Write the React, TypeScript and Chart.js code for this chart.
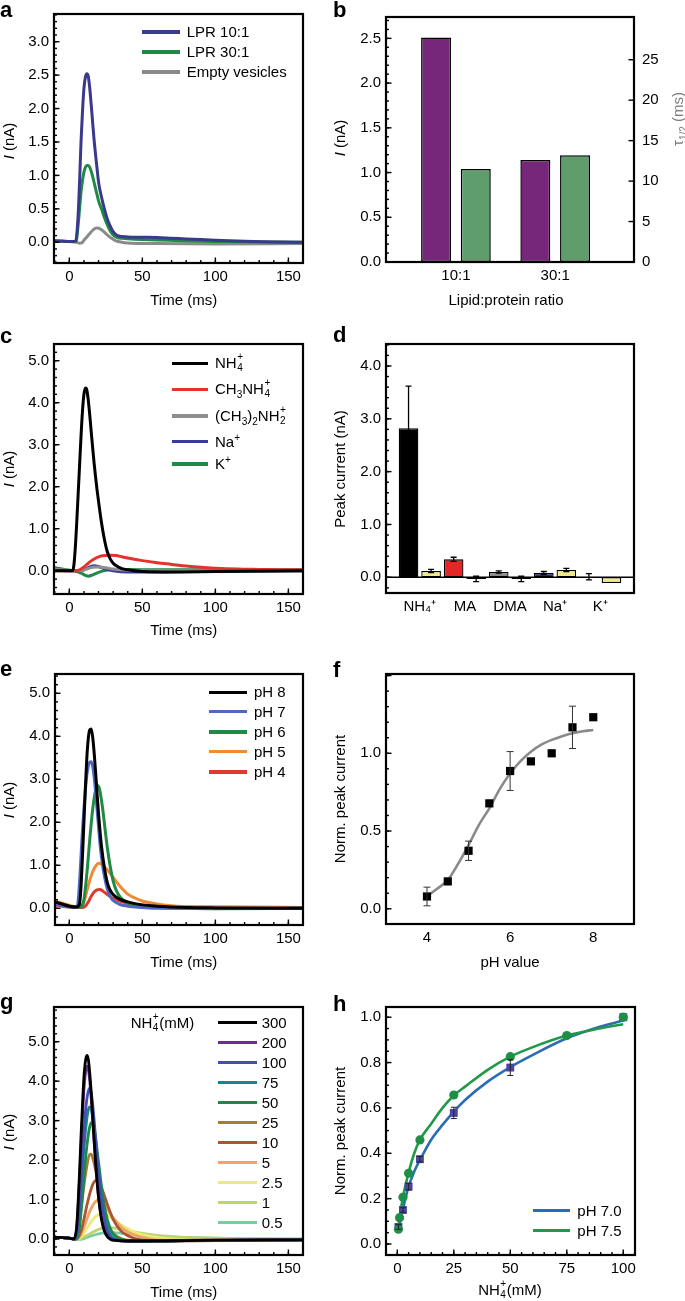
import React, { useEffect, useRef } from 'react';
import { Chart, registerables } from 'chart.js';

Chart.register(...registerables);

const FONT = "'Liberation Sans', Arial, Helvetica, sans-serif";
Chart.defaults.font.family = FONT;
Chart.defaults.font.size = 15;
Chart.defaults.color = '#000';

type Pt = [number, number];

// ===== Panel a : current traces for two lipid:protein ratios =====
const A_LPR10: Pt[] = [[-10,0.02],[-5,0.02],[0,0.01],[3,0.01],[4.5,0.03],[6,0.4],[7,0.9],[8,1.5],[9,1.95],[10,2.3],[11,2.47],[12,2.52],[13,2.48],[14,2.3],[15,2.05],[16,1.78],[17,1.52],[18,1.3],[19,1.1],[20,0.9],[22,0.68],[24,0.5],[26,0.35],[28,0.24],[30,0.16],[33,0.1],[40,0.08],[50,0.075],[60,0.07],[70,0.06],[80,0.05],[90,0.04],[100,0.03],[120,0.015],[140,0.005],[160,0]];
const A_LPR30: Pt[] = [[-10,0.02],[0,0.01],[4,0.01],[5,0.05],[6,0.25],[7,0.5],[8,0.75],[9,0.92],[10,1.05],[11,1.12],[12,1.15],[13,1.15],[14,1.12],[15,1.06],[16,0.98],[17,0.89],[18,0.8],[19,0.71],[20,0.62],[22,0.5],[24,0.37],[26,0.26],[28,0.17],[30,0.11],[33,0.07],[36,0.06],[45,0.045],[60,0.035],[80,0.02],[100,0.01],[130,0.005],[160,0]];
const A_EMPTY: Pt[] = [[-10,0.02],[0,0.01],[5,0],[7,-0.015],[8.5,-0.01],[10,0.03],[12,0.08],[14,0.13],[16,0.18],[18,0.21],[19.5,0.215],[21,0.2],[23,0.17],[25,0.13],[27,0.09],[29,0.06],[32,0.02],[36,0],[40,-0.01],[60,-0.02],[100,-0.025],[160,-0.02]];
const A_LABELS = ['LPR 10:1', 'LPR 30:1', 'Empty vesicles'];
const A_COLORS = ['#3a3a8c', '#1f8a45', '#8a8a8a'];

// ===== Panel b : peak current and tau1/2 =====
const B_CATEGORIES = ['10:1', '30:1'];
const B_POSITIONS = [1, 2];
const B_PEAK_CURRENT = [2.51, 1.14];
const B_TAU_HALF = [11.5, 13.2];

// ===== Panel c : substrate traces =====
const C_NH4: Pt[] = [[-10,0],[0,0],[2,0],[3,0.1],[4,0.5],[5,1.1],[6,1.8],[7,2.5],[8,3.2],[9,3.8],[10,4.2],[11,4.35],[12,4.3],[13,4.05],[14,3.7],[15,3.3],[16,2.92],[17,2.55],[18,2.22],[19,1.92],[20,1.65],[22,1.15],[24,0.75],[26,0.45],[28,0.28],[30,0.18],[33,0.1],[36,0.05],[40,0.02],[50,-0.02],[70,-0.03],[100,-0.02],[160,0]];
const C_MA: Pt[] = [[-10,0],[0,0],[5,0],[8,0.04],[10,0.09],[12,0.15],[14,0.21],[17,0.28],[20,0.33],[24,0.36],[28,0.37],[32,0.36],[36,0.33],[40,0.3],[50,0.24],[60,0.19],[70,0.15],[80,0.11],[90,0.08],[100,0.06],[115,0.04],[130,0.03],[145,0.02],[160,0.02]];
const C_DMA: Pt[] = [[-10,0.03],[0,0.01],[8,0],[12,0.04],[16,0.08],[20,0.09],[25,0.07],[30,0.04],[40,0.01],[60,0],[160,0]];
const C_NA: Pt[] = [[-10,0.02],[0,0],[8,0],[11,0.04],[14,0.09],[17,0.12],[20,0.1],[24,0.05],[30,0],[40,-0.03],[60,-0.03],[80,-0.02],[160,0]];
const C_K: Pt[] = [[-10,0.07],[-5,0.04],[0,0.01],[5,-0.02],[8,-0.06],[11,-0.11],[13,-0.13],[16,-0.1],[20,-0.04],[25,0.01],[30,0.03],[40,0.03],[60,0.02],[100,0.02],[160,0.02]];
const C_COLORS = ['#000000', '#e2342c', '#8f8f8f', '#3a3a9a', '#1f8a4a'];

// ===== Panel d : peak currents =====
const D_POSITIONS = [1, 2, 3, 4, 5, 6, 7, 8, 9, 10];
const D_PEAK = [2.82, 0.12, 0.34, -0.03, 0.1, -0.03, 0.08, 0.14, 0.01, -0.11];
const D_ERR = [0.8, 0.03, 0.04, 0.05, 0.02, 0.05, 0.03, 0.03, 0.06, 0];
const D_COLORS = ['#000000', '#f0e88c', '#e32626', '#f0e88c', '#8c8c8c', '#f0e88c', '#2d2d80', '#f0e88c', '#2a8a4a', '#f0e88c'];
const D_LABEL_POS = [1.5, 3.5, 5.5, 7.5, 9.5];
const D_LABELS = ['NH₄⁺', 'MA', 'DMA', 'Na⁺', 'K⁺'];

// ===== Panel e : pH traces =====
const E_PH8: Pt[] = [[-10,0.15],[-5,0.1],[0,0.05],[5,0.03],[7,0.1],[8,0.5],[9,1.2],[10,2],[11,2.8],[12,3.5],[13,3.95],[14,4.15],[15,4.17],[16,3.98],[17,3.62],[18,3.17],[19,2.67],[20,2.2],[21,1.8],[22,1.45],[24,0.95],[26,0.6],[28,0.42],[30,0.32],[34,0.22],[40,0.15],[50,0.08],[60,0.05],[80,0.02],[100,0.01],[160,0]];
const E_PH7: Pt[] = [[-10,0.1],[0,0.03],[5,0.02],[6,0.15],[7,0.6],[8,1.2],[9,1.8],[10,2.3],[11,2.75],[12,3.1],[13,3.3],[14,3.4],[15,3.41],[16,3.3],[17,3.05],[18,2.7],[19,2.3],[20,1.9],[21,1.5],[22,1.2],[24,0.75],[26,0.45],[28,0.28],[30,0.18],[34,0.1],[40,0.05],[50,0.02],[60,0],[160,0]];
const E_PH6: Pt[] = [[-10,0.12],[0,0.05],[8,0.03],[10,0.2],[12,0.8],[14,1.6],[16,2.3],[18,2.75],[19,2.86],[20,2.84],[21,2.72],[22,2.52],[23,2.27],[24,1.98],[26,1.42],[28,0.97],[30,0.64],[32,0.43],[35,0.25],[40,0.13],[50,0.05],[60,0.02],[80,0],[100,-0.01],[160,0]];
const E_PH5: Pt[] = [[-10,0.18],[-5,0.12],[0,0.07],[5,0.04],[8,0.05],[10,0.15],[12,0.4],[14,0.65],[16,0.85],[18,0.98],[20,1.05],[22,1.03],[25,0.93],[30,0.72],[35,0.5],[40,0.33],[45,0.24],[50,0.17],[60,0.1],[70,0.06],[80,0.04],[100,0.02],[160,0.01]];
const E_PH4: Pt[] = [[-10,0.08],[-5,0.05],[0,0.03],[5,0.02],[9,0.02],[11,0.05],[13,0.15],[15,0.28],[17,0.38],[19,0.43],[21,0.44],[23,0.4],[26,0.32],[30,0.23],[35,0.16],[40,0.11],[50,0.07],[60,0.05],[80,0.03],[100,0.03],[160,0.02]];
const E_LABELS = ['pH 8', 'pH 7', 'pH 6', 'pH 5', 'pH 4'];
const E_COLORS = ['#000000', '#4f68c2', '#1f8a45', '#f08a35', '#e03a2e'];

// ===== Panel f : normalised peak current vs pH =====
const F_PH = [4, 4.5, 5, 5.5, 6, 6.5, 7, 7.5, 8];
const F_NORM = [0.079, 0.176, 0.373, 0.678, 0.886, 0.948, 1.0, 1.167, 1.232];
const F_ERR = [0.06, 0, 0.062, 0, 0.125, 0, 0, 0.136, 0];
const F_FIT_PH = [4, 4.25, 4.5, 4.75, 5, 5.25, 5.5, 5.75, 6, 6.25, 6.5, 6.75, 7, 7.25, 7.5, 7.75, 8];
const F_FIT = [0.08, 0.13, 0.185, 0.29, 0.41, 0.54, 0.646, 0.77, 0.87, 0.95, 1.01, 1.055, 1.086, 1.11, 1.129, 1.142, 1.15];

// ===== Panel g : NH4+ concentration traces =====
const G_CONC = ['300', '200', '100', '75', '50', '25', '10', '5', '2.5', '1', '0.5'];
const G_300: Pt[] = [[-10,0.05],[0,0.02],[3,0],[5,0.3],[6,0.9],[7,1.7],[8,2.6],[9,3.4],[10,4.1],[11,4.5],[12,4.65],[13,4.55],[14,4.2],[15,3.7],[16,3.1],[17,2.5],[18,1.95],[19,1.45],[20,1.05],[22,0.5],[24,0.2],[26,0.06],[28,0],[30,-0.03],[40,-0.05],[60,-0.05],[80,-0.04],[100,-0.03],[160,-0.02]];
const G_200: Pt[] = [[-10,0.05],[0,0.02],[3,0],[5,0.25],[6,0.8],[7,1.5],[8,2.3],[9,3.1],[10,3.8],[11,4.2],[12,4.38],[13,4.3],[14,4],[15,3.55],[16,3],[17,2.45],[18,1.95],[19,1.5],[20,1.1],[22,0.55],[24,0.25],[26,0.08],[28,0],[30,-0.03],[40,-0.05],[60,-0.04],[100,-0.03],[160,-0.02]];
const G_100: Pt[] = [[-10,0.05],[0,0.02],[4,0],[6,0.4],[7,0.9],[8,1.5],[9,2.1],[10,2.7],[11,3.2],[12,3.55],[13,3.75],[14,3.82],[15,3.7],[16,3.4],[17,3],[18,2.55],[19,2.1],[20,1.7],[22,1],[24,0.5],[26,0.2],[28,0.06],[30,0],[35,-0.05],[50,-0.05],[80,-0.04],[160,-0.02]];
const G_75: Pt[] = [[-10,0.05],[0,0.02],[4,0],[6,0.3],[8,1.2],[10,2.3],[12,3.05],[13,3.28],[14,3.35],[15,3.3],[16,3.1],[17,2.8],[18,2.45],[19,2.05],[20,1.7],[22,1.1],[24,0.6],[26,0.3],[28,0.12],[30,0.03],[35,-0.04],[50,-0.05],[80,-0.04],[160,-0.02]];
const G_50: Pt[] = [[-10,0.05],[0,0.02],[5,0],[7,0.3],[9,1.1],[11,2],[13,2.65],[14,2.85],[15,2.95],[16,2.95],[17,2.8],[18,2.55],[19,2.25],[20,1.95],[22,1.35],[24,0.85],[26,0.5],[28,0.27],[30,0.13],[35,0],[45,-0.05],[80,-0.04],[160,-0.02]];
const G_25: Pt[] = [[-10,0.05],[0,0.02],[4,0],[6,0.2],[8,0.75],[10,1.35],[12,1.85],[14,2.15],[15,2.15],[16,2.05],[18,1.75],[20,1.35],[22,0.95],[24,0.65],[26,0.42],[28,0.25],[30,0.14],[35,0.02],[45,-0.04],[80,-0.04],[160,-0.02]];
const G_10: Pt[] = [[-10,0.05],[0,0.02],[5,0],[8,0.2],[10,0.5],[12,0.85],[14,1.15],[16,1.38],[18,1.48],[20,1.45],[22,1.3],[24,1.1],[26,0.88],[28,0.68],[30,0.5],[35,0.22],[40,0.08],[50,-0.03],[70,-0.05],[100,-0.04],[160,-0.02]];
const G_5: Pt[] = [[-10,0.05],[0,0.02],[5,0],[8,0.12],[10,0.3],[12,0.5],[14,0.7],[16,0.85],[18,0.95],[20,0.99],[22,0.95],[24,0.87],[26,0.76],[28,0.65],[30,0.54],[35,0.32],[40,0.18],[50,0.04],[60,-0.02],[80,-0.03],[160,-0.02]];
const G_2_5: Pt[] = [[-10,0.05],[0,0.02],[5,0],[8,0.06],[10,0.15],[12,0.27],[15,0.44],[18,0.57],[21,0.64],[23,0.65],[26,0.6],[30,0.5],[35,0.37],[40,0.26],[45,0.17],[50,0.11],[60,0.04],[70,0],[80,-0.02],[100,-0.03],[160,-0.02]];
const G_1: Pt[] = [[-10,0.05],[0,0.02],[5,0],[8,0.01],[10,0.05],[14,0.13],[18,0.21],[22,0.27],[26,0.29],[30,0.28],[35,0.25],[40,0.21],[50,0.14],[60,0.09],[70,0.06],[80,0.04],[100,0.02],[120,0],[160,-0.01]];
const G_0_5: Pt[] = [[-10,0.05],[0,0.02],[5,-0.01],[8,-0.01],[12,0.04],[16,0.09],[20,0.13],[25,0.16],[30,0.16],[35,0.15],[40,0.13],[50,0.1],[60,0.07],[80,0.04],[100,0.02],[120,0.01],[160,0]];
const G_CURVES = [G_300, G_200, G_100, G_75, G_50, G_25, G_10, G_5, G_2_5, G_1, G_0_5];
const G_COLORS = ['#000000', '#6b2d91', '#3f50b2', '#1a8585', '#1a8a4a', '#a67c35', '#a8572f', '#f0a26a', '#ecea78', '#bcd66e', '#78cca0'];

// ===== Panel h : concentration dependence =====
const H_CONC_75 = [0.5, 1, 2.5, 5, 10, 25, 50, 75, 100];
const H_NORM_75 = [0.065, 0.116, 0.206, 0.312, 0.459, 0.657, 0.826, 0.919, 1.0];
const H_CONC_70 = [0.5, 2.5, 5, 10, 25, 50, 100];
const H_NORM_70 = [0.075, 0.15, 0.253, 0.374, 0.578, 0.778, 1.0];
const H_ERR_70 = [0.01, 0.01, 0.015, 0.012, 0.025, 0.035, 0];
const H_FIT_CONC = [0.5, 1, 2.5, 5, 7.5, 10, 15, 20, 25, 30, 40, 50, 60, 75, 90, 100];
const H_FIT_70 = [0.06, 0.085, 0.155, 0.253, 0.32, 0.37, 0.46, 0.525, 0.584, 0.635, 0.716, 0.78, 0.834, 0.907, 0.959, 0.985];
const H_FIT_75 = [0.065, 0.116, 0.206, 0.315, 0.4, 0.459, 0.53, 0.6, 0.655, 0.694, 0.768, 0.826, 0.868, 0.919, 0.951, 0.969];
const H_LABELS = ['pH 7.0', 'pH 7.5'];
const H_COLORS = ['#2a6db5', '#22994a'];

// ---------- helpers ----------
const seq = (a: number, b: number, s: number) => {
  const out: number[] = [];
  for (let v = a; v <= b + 1e-9; v += s) out.push(+v.toFixed(6));
  return out;
};
const xy = (xs: number[], ys: number[]) => xs.map((x, i) => ({ x, y: ys[i] }));
const ptsOf = (a: Pt[]) => a.map(([x, y]) => ({ x, y }));

interface Box { l: number; t: number; r: number; b: number }
interface Panel { x: number; y: number; w: number; h: number; box: Box }
interface Ax { min: number; max: number; ticks: number[]; fmt: (v: number, i: number) => string }
interface TickSpec { major?: number[]; minor?: number[] }
interface FrameCfg { x?: TickSpec; y?: TickSpec; y2?: TickSpec; zeroLine?: boolean }

const PA: Panel = { x: 0, y: 0, w: 340, h: 320, box: { l: 54, t: 14, r: 303, b: 263 } };
const PB: Panel = { x: 340, y: 0, w: 345, h: 320, box: { l: 386, t: 14, r: 634, b: 262 } };
const PC: Panel = { x: 0, y: 320, w: 340, h: 320, box: { l: 54, t: 344, r: 303, b: 594 } };
const PD: Panel = { x: 340, y: 320, w: 345, h: 320, box: { l: 386, t: 344, r: 634, b: 593 } };
const PE: Panel = { x: 0, y: 640, w: 340, h: 320, box: { l: 55, t: 674, r: 303, b: 925 } };
const PF: Panel = { x: 340, y: 640, w: 345, h: 320, box: { l: 386, t: 674, r: 634, b: 924 } };
const PG: Panel = { x: 0, y: 960, w: 340, h: 341, box: { l: 54, t: 1007, r: 303, b: 1255 } };
const PH: Panel = { x: 340, y: 960, w: 345, h: 341, box: { l: 386, t: 1007, r: 635, b: 1255 } };

const fix1 = (v: number) => Number(v).toFixed(1);
const int0 = (v: number) => String(Math.round(Number(v)));

function axis(kind: 'x' | 'y' | 'y2', a: Ax, size: number) {
  const horizontal = kind === 'x';
  return {
    type: 'linear',
    position: kind === 'x' ? 'bottom' : kind === 'y' ? 'left' : 'right',
    min: a.min,
    max: a.max,
    offset: false,
    bounds: 'data',
    grid: { display: false, drawTicks: false },
    border: { display: false },
    ticks: {
      padding: kind === 'y2' ? 8 : 5,
      autoSkip: false,
      maxRotation: 0,
      minRotation: 0,
      color: '#000',
      font: { family: FONT, size: 15 },
      callback: (v: any, i: number) => a.fmt(Number(v), i),
    },
    afterBuildTicks: (s: any) => {
      s.ticks = a.ticks.map((v) => ({ value: v }));
    },
    afterFit: (s: any) => {
      if (horizontal) s.height = size;
      else s.width = size;
    },
  };
}

function framePlugin(cfg: FrameCfg) {
  return {
    id: 'frame',
    afterDatasetsDraw(chart: any) {
      const { ctx, scales } = chart;
      const ca = chart.chartArea;
      ctx.save();
      if (cfg.zeroLine) {
        const y0 = scales.y.getPixelForValue(0);
        ctx.strokeStyle = '#000';
        ctx.lineWidth = 1.6;
        ctx.beginPath();
        ctx.moveTo(ca.left, y0);
        ctx.lineTo(ca.right, y0);
        ctx.stroke();
      }
      chart.data.datasets.forEach((ds: any, di: number) => {
        if (!ds.errors) return;
        const meta = chart.getDatasetMeta(di);
        const ys = scales[meta.yAxisID];
        ctx.strokeStyle = ds.errorColor || '#000';
        ctx.lineWidth = ds.errorWidth || 1;
        const cap = ds.errorCap || 3;
        meta.data.forEach((el: any, i: number) => {
          const e = ds.errors[i];
          if (!e) return;
          const raw = ds.data[i];
          const v = typeof raw === 'number' ? raw : raw.y;
          const yt = ys.getPixelForValue(v + e);
          const yb = ys.getPixelForValue(v - e);
          const x = el.x;
          ctx.beginPath();
          ctx.moveTo(x, yb);
          ctx.lineTo(x, yt);
          ctx.moveTo(x - cap, yt);
          ctx.lineTo(x + cap, yt);
          ctx.moveTo(x - cap, yb);
          ctx.lineTo(x + cap, yb);
          ctx.stroke();
        });
      });
      ctx.restore();
    },
    afterDraw(chart: any) {
      const { ctx, scales } = chart;
      const ca = chart.chartArea;
      ctx.save();
      ctx.strokeStyle = '#000';
      ctx.lineWidth = 1.4;
      const ticks = (scale: any, spec: TickSpec | undefined, side: string) => {
        if (!spec || !scale) return;
        const draw = (vals: number[], len: number) =>
          vals.forEach((v) => {
            if (v < scale.min || v > scale.max) return;
            const p = scale.getPixelForValue(v);
            ctx.beginPath();
            if (side === 'bottom') {
              ctx.moveTo(p, ca.bottom);
              ctx.lineTo(p, ca.bottom - len);
            } else if (side === 'left') {
              ctx.moveTo(ca.left, p);
              ctx.lineTo(ca.left + len, p);
            } else {
              ctx.moveTo(ca.right, p);
              ctx.lineTo(ca.right - len, p);
            }
            ctx.stroke();
          });
        draw(spec.minor || [], 3);
        draw(spec.major || [], 5.5);
      };
      ticks(scales.x, cfg.x, 'bottom');
      ticks(scales.y, cfg.y, 'left');
      ticks(scales.y2, cfg.y2, 'right');
      ctx.lineWidth = 2.2;
      ctx.strokeRect(ca.left, ca.top, ca.right - ca.left, ca.bottom - ca.top);
      ctx.restore();
    },
  };
}

function baseOptions(p: Panel, x: Ax, y: Ax, y2?: Ax) {
  const { box } = p;
  const scales: any = {
    x: axis('x', x, p.y + p.h - box.b),
    y: axis('y', y, box.l - p.x),
  };
  if (y2) scales.y2 = axis('y2', y2, p.x + p.w - box.r);
  return {
    responsive: false,
    maintainAspectRatio: false,
    animation: false,
    devicePixelRatio: 1,
    events: [],
    layout: { padding: { top: box.t - p.y, right: y2 ? 0 : p.x + p.w - box.r, left: 0, bottom: 0 } },
    plugins: { legend: { display: false }, tooltip: { enabled: false }, title: { display: false } },
    scales,
  };
}

const lineDs = (data: any[], color: string, width = 3) => ({
  type: 'line',
  data,
  borderColor: color,
  backgroundColor: color,
  borderWidth: width,
  pointRadius: 0,
  fill: false,
  cubicInterpolationMode: 'monotone',
});

const TIME_X: Ax = { min: -10.5, max: 160, ticks: [0, 50, 100, 150], fmt: int0 };
const TIME_X_SPEC: TickSpec = { major: [0, 50, 100, 150], minor: seq(-10, 160, 10) };

// ---------- chart configs ----------
function makeA() {
  return {
    type: 'line',
    data: { datasets: [A_LPR10, A_LPR30, A_EMPTY].map((c, i) => lineDs(ptsOf(c), A_COLORS[i])) },
    options: baseOptions(PA, TIME_X, { min: -0.31, max: 3.414, ticks: seq(0, 3, 0.5), fmt: fix1 }),
    plugins: [framePlugin({ x: TIME_X_SPEC, y: { major: seq(0, 3, 0.5), minor: seq(-0.3, 3.4, 0.1) } })],
  };
}

function makeB() {
  return {
    type: 'bar',
    data: {
      datasets: [
        { data: xy(B_POSITIONS, B_PEAK_CURRENT), yAxisID: 'y', backgroundColor: '#77277a', borderColor: '#000', borderWidth: 1.5, borderSkipped: false, categoryPercentage: 0.8, barPercentage: 0.755 },
        { data: xy(B_POSITIONS, B_TAU_HALF), yAxisID: 'y2', backgroundColor: '#5f9d6c', borderColor: '#000', borderWidth: 1.5, borderSkipped: false, categoryPercentage: 0.8, barPercentage: 0.755 },
      ],
    },
    options: baseOptions(
      PB,
      { min: 0.2955, max: 2.794, ticks: B_POSITIONS, fmt: (_v, i) => B_CATEGORIES[i] },
      { min: 0, max: 2.739, ticks: seq(0, 2.5, 0.5), fmt: fix1 },
      { min: 0, max: 30.28, ticks: seq(0, 25, 5), fmt: int0 },
    ),
    plugins: [framePlugin({ y: { major: seq(0, 2.5, 0.5), minor: seq(0, 2.7, 0.1) }, y2: { major: seq(0, 25, 5) } })],
  };
}

function makeC() {
  return {
    type: 'line',
    data: { datasets: [C_NH4, C_MA, C_DMA, C_NA, C_K].map((c, i) => lineDs(ptsOf(c), C_COLORS[i])) },
    options: baseOptions(PC, TIME_X, { min: -0.555, max: 5.398, ticks: seq(0, 5, 1), fmt: fix1 }),
    plugins: [framePlugin({ x: TIME_X_SPEC, y: { major: seq(0, 5, 1), minor: seq(-0.4, 5.4, 0.2) } })],
  };
}

function makeD() {
  return {
    type: 'bar',
    data: {
      datasets: [
        {
          data: xy(D_POSITIONS, D_PEAK),
          backgroundColor: D_COLORS,
          borderColor: '#000',
          borderWidth: 1.3,
          borderSkipped: false,
          categoryPercentage: 1,
          barPercentage: 0.87,
          errors: D_ERR,
          errorCap: 3,
          errorWidth: 1.3,
        },
      ],
    },
    options: baseOptions(
      PD,
      { min: 0, max: 11, ticks: D_LABEL_POS, fmt: (_v, i) => D_LABELS[i] },
      { min: -0.297, max: 4.416, ticks: seq(0, 4, 1), fmt: fix1 },
    ),
    plugins: [framePlugin({ y: { major: seq(0, 4, 1), minor: seq(-0.2, 4.4, 0.2) }, zeroLine: true })],
  };
}

function makeE() {
  return {
    type: 'line',
    data: { datasets: [E_PH8, E_PH7, E_PH6, E_PH5, E_PH4].map((c, i) => lineDs(ptsOf(c), E_COLORS[i])) },
    options: baseOptions(PE, { ...TIME_X, min: -9.8 }, { min: -0.388, max: 5.449, ticks: seq(0, 5, 1), fmt: fix1 }),
    plugins: [framePlugin({ x: TIME_X_SPEC, y: { major: seq(0, 5, 1), minor: seq(-0.2, 5.4, 0.2) } })],
  };
}

function makeF() {
  return {
    type: 'line',
    data: {
      datasets: [
        {
          type: 'line',
          data: xy(F_PH, F_NORM),
          showLine: false,
          pointStyle: 'rect',
          pointRadius: 5.8,
          pointBackgroundColor: '#000',
          pointBorderColor: '#000',
          pointBorderWidth: 0,
          errors: F_ERR,
          errorCap: 3.5,
          errorWidth: 1,
          errorColor: '#333',
        },
        { ...lineDs(xy(F_FIT_PH, F_FIT), '#8a8a8a', 2.6) },
      ],
    },
    options: baseOptions(
      PF,
      { min: 3.014, max: 8.98, ticks: [4, 6, 8], fmt: int0 },
      { min: -0.098, max: 1.51, ticks: [0, 0.5, 1.0], fmt: fix1 },
    ),
    plugins: [framePlugin({ y: { major: [0, 0.5, 1.0, 1.5], minor: seq(-0.1, 1.5, 0.1) } })],
  };
}

function makeG() {
  return {
    type: 'line',
    data: { datasets: G_CURVES.map((c, i) => lineDs(ptsOf(c), G_COLORS[i], 2.8)) },
    options: baseOptions(PG, TIME_X, { min: -0.405, max: 5.879, ticks: seq(0, 5, 1), fmt: fix1 }),
    plugins: [framePlugin({ x: TIME_X_SPEC, y: { major: seq(0, 5, 1), minor: seq(-0.4, 5.8, 0.2) } })],
  };
}

function makeH() {
  return {
    type: 'line',
    data: {
      datasets: [
        {
          type: 'line',
          data: xy(H_CONC_75, H_NORM_75),
          showLine: false,
          pointStyle: 'circle',
          pointRadius: 4.6,
          pointBackgroundColor: '#1f8f48',
          pointBorderColor: '#1f8f48',
          pointBorderWidth: 0,
        },
        {
          type: 'line',
          data: xy(H_CONC_70, H_NORM_70),
          showLine: false,
          pointStyle: 'rect',
          pointRadius: 5.6,
          pointBackgroundColor: '#4b45a8',
          pointBorderColor: '#4b45a8',
          pointBorderWidth: 0,
          errors: H_ERR_70,
          errorCap: 3,
          errorWidth: 1,
          errorColor: '#222',
        },
        { ...lineDs(xy(H_FIT_CONC, H_FIT_75), H_COLORS[1], 2.6) },
        { ...lineDs(xy(H_FIT_CONC, H_FIT_70), H_COLORS[0], 2.6) },
      ],
    },
    options: baseOptions(
      PH,
      { min: -5, max: 105.18, ticks: [0, 25, 50, 75, 100], fmt: int0 },
      { min: -0.0485, max: 1.045, ticks: seq(0, 1, 0.2), fmt: fix1 },
    ),
    plugins: [framePlugin({ x: { major: [0, 25, 50, 75, 100], minor: seq(0, 105, 5) }, y: { major: seq(0, 1, 0.2), minor: seq(0, 1.04, 0.05) } })],
  };
}

// ---------- React pieces ----------
function ChartPanel({ p, make }: { p: Panel; make: () => any }) {
  const ref = useRef<HTMLCanvasElement>(null);
  useEffect(() => {
    const chart = new Chart(ref.current as HTMLCanvasElement, make() as any);
    return () => chart.destroy();
  }, []);
  return (
    <canvas
      ref={ref}
      width={p.w}
      height={p.h}
      style={{ position: 'absolute', left: p.x, top: p.y, width: p.w, height: p.h, display: 'block' }}
    />
  );
}

const Sub = ({ children }: { children: any }) => (
  <span style={{ fontSize: 10, position: 'relative', top: 4 }}>{children}</span>
);
const Sup = ({ children }: { children: any }) => (
  <span style={{ fontSize: 10, position: 'relative', top: -6 }}>{children}</span>
);
const SS = ({ sub, sup }: { sub: string; sup: string }) => (
  <span style={{ display: 'inline-block', position: 'relative', width: 7, height: 1 }}>
    <span style={{ position: 'absolute', left: 0.5, top: -15, fontSize: 10, lineHeight: '10px' }}>{sup}</span>
    <span style={{ position: 'absolute', left: 0.5, top: -4, fontSize: 10, lineHeight: '10px' }}>{sub}</span>
  </span>
);

function Txt({ x, y, children, center, color, size }: { x: number; y: number; children: any; center?: boolean; color?: string; size?: number }) {
  return (
    <div
      style={{
        position: 'absolute',
        left: x,
        top: y - 9,
        lineHeight: '18px',
        fontSize: size || 15,
        whiteSpace: 'nowrap',
        color: color || '#000',
        transform: center ? 'translateX(-50%)' : undefined,
      }}
    >
      {children}
    </div>
  );
}

function VTxt({ x, y, children, color }: { x: number; y: number; children: any; color?: string }) {
  return (
    <div
      style={{
        position: 'absolute',
        left: x,
        top: y,
        lineHeight: '18px',
        fontSize: 15,
        whiteSpace: 'nowrap',
        color: color || '#000',
        transform: 'translate(-50%, -50%) rotate(-90deg)',
      }}
    >
      {children}
    </div>
  );
}

function Letter({ x, y, ch }: { x: number; y: number; ch: string }) {
  return (
    <div style={{ position: 'absolute', left: x, top: y, fontSize: 22, lineHeight: '22px', fontWeight: 'bold' }}>{ch}</div>
  );
}

function LegendRow({ x1, x2, tx, y, color, thick, children }: { x1: number; x2: number; tx: number; y: number; color: string; thick: number; children: any }) {
  return (
    <>
      <div style={{ position: 'absolute', left: x1, top: y - thick / 2, width: x2 - x1, height: thick, background: color }} />
      <Txt x={tx} y={y}>{children}</Txt>
    </>
  );
}

const NH4 = () => (
  <>
    NH<SS sub="4" sup="+" />
  </>
);

const C_LEGEND = [
  <NH4 />,
  <>CH<Sub>3</Sub>NH<SS sub="4" sup="+" /></>,
  <>(CH<Sub>3</Sub>)<Sub>2</Sub>NH<SS sub="2" sup="+" /></>,
  <>Na<Sup>+</Sup></>,
  <>K<Sup>+</Sup></>,
];
const C_ROWS = [363.3, 389.3, 416, 441.7, 464];
const A_ROWS = [31.7, 52, 71.7];
const E_ROWS = [692.3, 711.7, 732, 751.7, 772];
const H_ROWS = [1210.7, 1230.7];

const IAxis = () => (
  <>
    <i>I</i> (nA)
  </>
);

export default function App() {
  return (
    <div
      style={{
        position: 'absolute',
        left: 0,
        top: 0,
        width: 685,
        height: 1301,
        background: '#fff',
        fontFamily: FONT,
        fontSize: 15,
        color: '#000',
        overflow: 'hidden',
      }}
    >
      <ChartPanel p={PA} make={makeA} />
      <ChartPanel p={PB} make={makeB} />
      <ChartPanel p={PC} make={makeC} />
      <ChartPanel p={PD} make={makeD} />
      <ChartPanel p={PE} make={makeE} />
      <ChartPanel p={PF} make={makeF} />
      <ChartPanel p={PG} make={makeG} />
      <ChartPanel p={PH} make={makeH} />

      {/* panel letters */}
      <Letter x={0} y={-1} ch="a" />
      <Letter x={333} y={-1} ch="b" />
      <Letter x={0} y={325} ch="c" />
      <Letter x={333} y={324} ch="d" />
      <Letter x={0} y={658} ch="e" />
      <Letter x={333} y={659} ch="f" />
      <Letter x={0} y={991} ch="g" />
      <Letter x={333} y={993} ch="h" />

      {/* axis titles */}
      <VTxt x={8.5} y={141}><IAxis /></VTxt>
      <Txt x={183.7} y={300} center>Time (ms)</Txt>
      <VTxt x={340} y={138}><IAxis /></VTxt>
      <VTxt x={679} y={118.5} color="#7a7a7a">τ<Sub>1/2</Sub> (ms)</VTxt>
      <Txt x={506} y={300} center>Lipid:protein ratio</Txt>

      <VTxt x={8.5} y={469}><IAxis /></VTxt>
      <Txt x={183.7} y={630} center>Time (ms)</Txt>
      <VTxt x={340} y={469}>Peak current (nA)</VTxt>

      <VTxt x={8.5} y={800}><IAxis /></VTxt>
      <Txt x={183.7} y={962} center>Time (ms)</Txt>
      <VTxt x={340} y={799}>Norm. peak current</VTxt>
      <Txt x={510} y={962} center>pH value</Txt>

      <VTxt x={8.5} y={1132}><IAxis /></VTxt>
      <Txt x={183.7} y={1292} center>Time (ms)</Txt>
      <VTxt x={340} y={1131}>Norm. peak current</VTxt>
      <Txt x={510} y={1290} center><NH4 />(mM)</Txt>

      {/* legends */}
      {A_LABELS.map((l, i) => (
        <LegendRow key={'a' + i} x1={141.7} x2={180} tx={186.7} y={A_ROWS[i]} color={A_COLORS[i]} thick={4}>{l}</LegendRow>
      ))}
      {C_LEGEND.map((l, i) => (
        <LegendRow key={'c' + i} x1={171.7} x2={208.3} tx={215} y={C_ROWS[i]} color={C_COLORS[i]} thick={3.5}>{l}</LegendRow>
      ))}
      {E_LABELS.map((l, i) => (
        <LegendRow key={'e' + i} x1={209.3} x2={247.3} tx={254} y={E_ROWS[i]} color={E_COLORS[i]} thick={3.5}>{l}</LegendRow>
      ))}
      <Txt x={130.7} y={1023}><NH4 />(mM)</Txt>
      {G_CONC.map((l, i) => (
        <LegendRow key={'g' + i} x1={218.3} x2={256.7} tx={261.7} y={1022.7 + 20 * i} color={G_COLORS[i]} thick={3}>{l}</LegendRow>
      ))}
      {H_LABELS.map((l, i) => (
        <LegendRow key={'h' + i} x1={532.7} x2={570} tx={577.3} y={H_ROWS[i]} color={H_COLORS[i]} thick={3}>{l}</LegendRow>
      ))}
    </div>
  );
}
